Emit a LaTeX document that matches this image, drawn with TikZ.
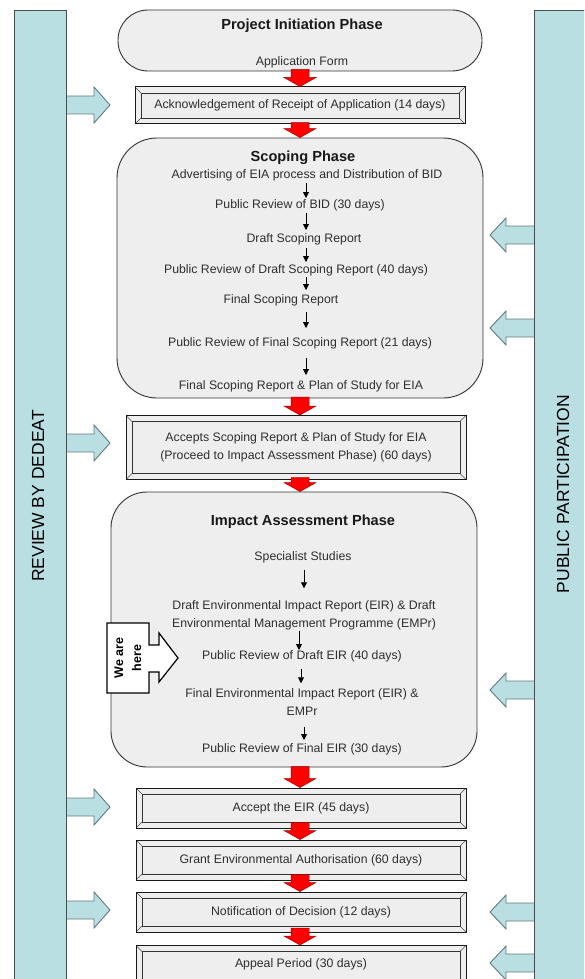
\documentclass[tikz,border=0pt]{standalone}
\usepackage{fontspec}
\setmainfont{Liberation Sans}
\usetikzlibrary{arrows.meta,calc}
\definecolor{barteal}{HTML}{B9DFE3}
\definecolor{tealline}{HTML}{62787C}
\definecolor{boxgray}{HTML}{EEEEEE}
\definecolor{txtgray}{HTML}{2E2E2E}
\definecolor{arrred}{HTML}{FF0000}
\definecolor{arrredline}{HTML}{A00000}
\tikzset{
  txt/.style={font=\fontsize{12.3}{18}\selectfont, text=txtgray, align=center, inner sep=0pt, text height=9pt, text depth=2.6pt},
  txtm/.style={font=\fontsize{12.3}{18}\selectfont, text=txtgray, align=center, inner sep=0pt},
  ttl/.style={font=\fontsize{14.6}{17}\selectfont\bfseries, text=black!90, inner sep=0pt},
  phase/.style={draw=black!80, line width=0.9pt, fill=boxgray, rectangle, inner sep=0pt},
  bevel/.style={draw=black!90, line width=1pt, fill=boxgray, rectangle, inner sep=0pt, txtm,
    path picture={
      \coordinate (bnw) at (path picture bounding box.north west);
      \coordinate (bse) at (path picture bounding box.south east);
      \draw[line width=0.7pt, black!80] ($(bnw)+(6pt,-6pt)$) rectangle ($(bse)+(-6pt,6pt)$);
      \draw[line width=0.5pt, black!70] (bnw) -- ++(6pt,-6pt) (bse) -- ++(-6pt,6pt)
        (bnw -| bse) -- ++(-6pt,-6pt) (bnw |- bse) -- ++(6pt,6pt);
    }},
  smallarr/.style={-{Triangle[length=6pt,width=6pt]}, line width=0.8pt, black},
  bar/.style={draw=black!70, line width=1.2pt, fill=barteal, rectangle, inner sep=0pt},
  barlbl/.style={rotate=90, font=\fontsize{17.5}{20}\selectfont, text=black, inner sep=0pt},
  wah/.style={rotate=90, font=\fontsize{12.5}{18}\selectfont\bfseries, align=center, inner sep=0pt},
  pics/redarr/.style={code={
    \draw[fill=arrred, draw=arrredline, line width=0.5pt]
      (-9,-#1) -- (9,-#1) -- (9,-9) -- (16,-9) -- (0,0) -- (-16,-9) -- (-9,-9) -- cycle;}},
  pics/tealright/.style={code={
    \draw[fill=barteal, draw=tealline, line width=0.9pt]
      (-52,-9) -- (-16,-9) -- (-16,-18) -- (0,0) -- (-16,18) -- (-16,9) -- (-52,9);}},
  pics/tealleft/.style={code={
    \draw[fill=barteal, draw=tealline, line width=0.9pt]
      (52,-9) -- (16,-9) -- (16,-17) -- (0,0) -- (16,17) -- (16,9) -- (52,9);}},
}
\begin{document}
\begin{tikzpicture}[x=1pt,y=-1pt]
\useasboundingbox (0,0) rectangle (584,979);
\clip (0,0) rectangle (584,979);
\coordinate (ax) at (300,0);

% block arrows from the side bars
\pic at (110,105) {tealright};
\pic at (110,443) {tealright};
\pic at (110,807) {tealright};
\pic at (110,910) {tealright};
\pic at (490,235) {tealleft};
\pic at (490,328) {tealleft};
\pic at (490,690) {tealleft};
\pic at (490,912) {tealleft};
\pic at (490,963) {tealleft};

% side bars
\node[bar, anchor=north west, minimum width=52pt, minimum height=1000pt] (lbar) at (14,10) {};
\node[bar, anchor=north west, minimum width=70pt, minimum height=1000pt] (rbar) at (534,10) {};
\node[barlbl] (lbl) at (38,496) {REVIEW BY DEDEAT};
\node[barlbl] (rlbl) at (563,494) {PUBLIC PARTICIPATION};

% main boxes
\node[phase, rounded corners=30pt, minimum width=364pt, minimum height=61pt] (stad) at (300,40.5) {};
\node[bevel, minimum width=330pt, minimum height=37pt] (ack) at (300,105.5) {Acknowledgement of Receipt of Application (14 days)};
\node[phase, rounded corners=40pt, minimum width=366pt, minimum height=260pt] (scop) at (300,268) {};
\node[bevel, minimum width=340pt, minimum height=64pt] (acc) at (296,447.5) {Accepts Scoping Report \& Plan of Study for EIA\\(Proceed to Impact Assessment Phase) (60 days)};
\node[phase, rounded corners=36pt, minimum width=366pt, minimum height=275pt] (imp) at (294,629.5) {};
\node[bevel, minimum width=330pt, minimum height=40pt] (eir) at (301,808) {Accept the EIR (45 days)};
\node[bevel, minimum width=330pt, minimum height=40pt] (grant) at (301,860) {Grant Environmental Authorisation (60 days)};
\node[bevel, minimum width=330pt, minimum height=40pt] (notif) at (301,912) {Notification of Decision (12 days)};
\node[bevel, minimum width=330pt, minimum height=40pt, anchor=north] (appeal) at (301,945) {};
\node[txt] (apptxt) at (301,964) {Appeal Period (30 days)};

% project initiation texts
\node[ttl] (pt) at (302,26) {Project Initiation Phase};
\node[txt] (pf) at (302,62) {Application Form};

% scoping texts
\node[ttl] (st) at (303,158) {Scoping Phase};
\node[txt] (s1) at (307,175) {Advertising of EIA process and Distribution of BID};
\node[txt] (s2) at (300,205) {Public Review of BID (30 days)};
\node[txt] (s3) at (304,239) {Draft Scoping Report};
\node[txt] (s4) at (296,270) {Public Review of Draft Scoping Report (40 days)};
\node[txt] (s5) at (281,300) {Final Scoping Report};
\node[txt] (s6) at (300,343) {Public Review of Final Scoping Report (21 days)};
\node[txt] (s7) at (301,386) {Final Scoping Report \& Plan of Study for EIA};

% impact texts
\node[ttl] (it) at (303,522) {Impact Assessment Phase};
\node[txt] (i1) at (303,557) {Specialist Studies};
\node[txtm] (i2) at (304,615.2) {Draft Environmental Impact Report (EIR) \& Draft\\Environmental Management Programme (EMPr)};
\node[txt] (i3) at (302,656) {Public Review of Draft EIR (40 days)};
\node[txtm] (i4) at (302,701.9) {Final Environmental Impact Report (EIR) \&\\EMPr};
\node[txt] (i5) at (302,749) {Public Review of Final EIR (30 days)};

% small flow arrows
\coordinate (sx) at (306,0);
\draw[smallarr, shorten <=2pt, shorten >=1pt] (s1.south -| sx) -- (s2.north -| sx);
\draw[smallarr, shorten <=2pt, shorten >=3pt] (s2.south -| sx) -- (s3.north -| sx);
\draw[smallarr, shorten <=3pt, shorten >=2pt] (s3.south -| sx) -- (s4.north -| sx);
\draw[smallarr, shorten <=1pt, shorten >=4pt] (s4.south -| sx) -- (s5.north -| sx);
\draw[smallarr, shorten <=6pt, shorten >=9pt] (s5.south -| sx) -- (s6.north -| sx);
\draw[smallarr, shorten <=9pt, shorten >=5pt] (s6.south -| sx) -- (s7.north -| sx);
\coordinate (ix1) at (304,0);
\coordinate (ix2) at (299,0);
\coordinate (ix3) at (301,0);
\draw[smallarr, shorten <=7pt, shorten >=12pt] (i1.south -| ix1) -- (i2.north -| ix1);
\draw[smallarr, shorten <=0.5pt, shorten >=0pt] (i2.south -| ix2) -- (i3.north -| ix2);
\draw[smallarr, shorten <=7pt, shorten >=5pt] (i3.south -| ix3) -- (i4.north -| ix3);
\draw[smallarr, shorten <=11pt, shorten >=3pt] (i4.south -| ix1) -- (i5.north -| ix1);

% red block arrows between stages
\pic at (ack.north -| ax) {redarr=17};
\pic at (scop.north -| ax) {redarr=15};
\pic at (acc.north -| ax) {redarr=18};
\pic at (imp.north -| ax) {redarr=14};
\pic at (eir.north -| ax) {redarr=21};
\pic at (grant.north -| ax) {redarr=17};
\pic at (notif.north -| ax) {redarr=17};
\pic at (appeal.north -| ax) {redarr=17};

% "We are here" marker
\draw[fill=white, draw=black, line width=1.2pt] (107,623) -- (149,623) -- (149,645) -- (159,645) -- (159,633) -- (178,658) -- (159,682) -- (159,672) -- (149,672) -- (149,693) -- (107,693) -- cycle;
\node[wah] (here) at (128,658) {We are\\here};
\end{tikzpicture}
\end{document}
